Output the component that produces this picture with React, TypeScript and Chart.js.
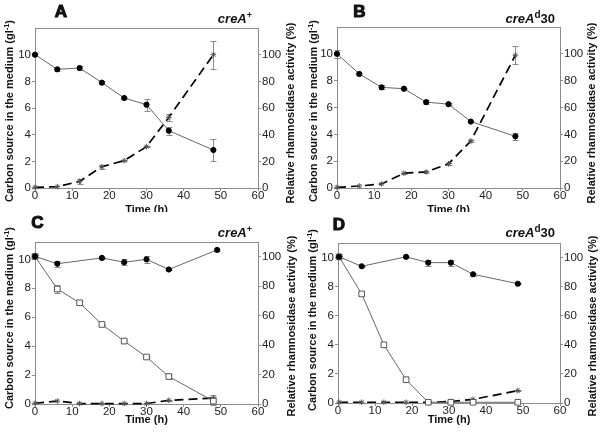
import React, { useEffect, useRef } from "react";
import { Chart, registerables } from "chart.js";

Chart.register(...registerables);

const FONT = "'Liberation Sans', Arial, sans-serif";

// ---- shared axis ticks ----
const timeTicks = [0, 10, 20, 30, 40, 50, 60];
const carbonTicks = [0, 2, 4, 6, 8, 10];
const activityTicks = [0, 20, 40, 60, 80, 100];

// ---- Panel A (creA+) ----
const timesA = [0, 6, 12, 18, 24, 30, 36, 48];
const carbonA = [10.0, 8.9, 9.0, 7.9, 6.75, 6.25, 4.3, 2.85];
const carbonErrA = [0.1, 0.1, 0.15, 0.1, 0.1, 0.45, 0.3, 0.8];
const activityA = [0.5, 1, 5, 16, 20.5, 31, 53, 100];
const activityErrA = [0, 0, 2, 1.5, 0.5, 0.5, 2.5, 10.5];

// ---- Panel B (creAd30) ----
const timesB = [0, 6, 12, 18, 24, 30, 36, 48];
const carbonB = [10.0, 8.5, 7.5, 7.4, 6.4, 6.25, 4.95, 3.85];
const carbonErrB = [0.3, 0.05, 0.15, 0.05, 0.15, 0.1, 0.05, 0.25];
const activityB = [0.5, 1.5, 3, 11, 12, 18, 35, 99];
const activityErrB = [0, 0, 0, 0.5, 0.5, 0.5, 1, 6.5];

// ---- Panel C (creA+) ----
const timesFilledC = [0, 6, 18, 24, 30, 36, 49];
const filledC = [10.2, 9.7, 10.1, 9.8, 10.0, 9.3, 10.65];
const filledErrC = [0.1, 0.2, 0.05, 0.2, 0.25, 0.05, 0.05];
const timesC = [0, 6, 12, 18, 24, 30, 36, 48];
const openC = [10.2, 7.95, 7.0, 5.5, 4.35, 3.25, 1.9, 0.2];
const openErrC = [0.1, 0.3, 0.15, 0.05, 0.1, 0.05, 0.15, 0.3];
const activityC = [0.5, 2, 0.3, 0.3, 0.3, 0.3, 2.5, 4];
const activityErrC = [0, 0, 0, 0, 0, 0, 0.5, 2];

// ---- Panel D (creAd30) ----
const timesFilledD = [0.3, 6.4, 18.4, 24.4, 30.5, 36.5, 48.6];
const filledD = [10.05, 9.4, 10.05, 9.65, 9.65, 8.85, 8.2];
const filledErrD = [0.05, 0.05, 0.05, 0.2, 0.2, 0.1, 0.05];
const timesD = [0.3, 6.4, 12.4, 18.4, 24.4, 30.5, 36.5, 48.6];
const openD = [10.05, 7.5, 4.0, 1.6, 0.05, 0.05, 0.05, 0.05];
const openErrD = [0, 0, 0, 0, 0, 0, 0, 0];
const activityD = [0.5, 0.5, 0.5, 0.5, 0.5, 1, 2.5, 8.5];
const activityErrD = [0, 0, 0, 0, 0, 0, 0.3, 0.3];

type Series = { times: number[]; values: number[]; errors: number[] };

interface PanelSpec {
  left: number; top: number; w: number; h: number;
  padTop: number; leftW: number; rightW: number; bottomH: number;
  leftMax: number; rightMax: number;
  filled: Series; open?: Series; activity: Series;
  letter: string; letterPos: [number, number];
  genotype: "plus" | "d30"; genoRight: number; genoBase: number;
  leftTitle: [number, number]; rightTitle: [number, number]; timeTitle: [number, number];
}

const panels: PanelSpec[] = [
  {
    left: 0, top: 0, w: 300, h: 212, padTop: 28, leftW: 35, rightW: 42, bottomH: 24,
    leftMax: 12, rightMax: 120,
    filled: { times: timesA, values: carbonA, errors: carbonErrA },
    activity: { times: timesA, values: activityA, errors: activityErrA },
    letter: "A", letterPos: [61, 12], genotype: "plus", genoRight: 252, genoBase: 23,
    leftTitle: [10, 111], rightTitle: [291, 113], timeTitle: [146.5, 209.5],
  },
  {
    left: 300, top: 0, w: 300, h: 212, padTop: 27, leftW: 37, rightW: 40, bottomH: 24,
    leftMax: 12, rightMax: 120,
    filled: { times: timesB, values: carbonB, errors: carbonErrB },
    activity: { times: timesB, values: activityB, errors: activityErrB },
    letter: "B", letterPos: [59.5, 12], genotype: "d30", genoRight: 255, genoBase: 23,
    leftTitle: [14, 111], rightTitle: [292, 113], timeTitle: [148.5, 209.5],
  },
  {
    left: 0, top: 212, w: 300, h: 221, padTop: 30, leftW: 35, rightW: 42, bottomH: 29,
    leftMax: 11.2, rightMax: 110,
    filled: { times: timesFilledC, values: filledC, errors: filledErrC },
    open: { times: timesC, values: openC, errors: openErrC },
    activity: { times: timesC, values: activityC, errors: activityErrC },
    letter: "C", letterPos: [37.5, 11.5], genotype: "plus", genoRight: 252, genoBase: 25,
    leftTitle: [10, 106], rightTitle: [292, 114], timeTitle: [146.5, 208],
  },
  {
    left: 300, top: 212, w: 300, h: 221, padTop: 31, leftW: 38, rightW: 40, bottomH: 30,
    leftMax: 11, rightMax: 110,
    filled: { times: timesFilledD, values: filledD, errors: filledErrD },
    open: { times: timesD, values: openD, errors: openErrD },
    activity: { times: timesD, values: activityD, errors: activityErrD },
    letter: "D", letterPos: [39, 13.5], genotype: "d30", genoRight: 255, genoBase: 25,
    leftTitle: [13, 108], rightTitle: [292.5, 114], timeTitle: [149, 208],
  },
];

type Part = { t: string; font: string; dy?: number };

function measureParts(ctx: CanvasRenderingContext2D, parts: Part[]) {
  let w = 0;
  for (const p of parts) { ctx.font = p.font; w += ctx.measureText(p.t).width; }
  return w;
}
function drawParts(ctx: CanvasRenderingContext2D, parts: Part[], x: number, y: number) {
  let cx = x;
  for (const p of parts) {
    ctx.font = p.font;
    ctx.fillText(p.t, cx, y + (p.dy || 0));
    cx += ctx.measureText(p.t).width;
  }
}
function drawRotated(ctx: CanvasRenderingContext2D, parts: Part[], cx: number, cy: number) {
  ctx.save();
  ctx.translate(cx, cy);
  ctx.rotate(-Math.PI / 2);
  ctx.textAlign = "left";
  ctx.textBaseline = "middle";
  const w = measureParts(ctx, parts);
  drawParts(ctx, parts, -w / 2, 0);
  ctx.restore();
}

const errorBarPlugin = {
  id: "errbars",
  beforeDatasetsDraw(chart: any) {
    const ctx = chart.ctx as CanvasRenderingContext2D;
    const xs = chart.scales.x;
    ctx.save();
    ctx.strokeStyle = "#8a8a8a";
    ctx.lineWidth = 1;
    chart.data.datasets.forEach((ds: any) => {
      const errs: number[] | undefined = ds.errorBars;
      if (!errs) return;
      const ys = chart.scales[ds.yAxisID];
      ds.data.forEach((pt: any, i: number) => {
        const e = errs[i];
        if (!e) return;
        const x = Math.round(xs.getPixelForValue(pt.x)) + 0.5;
        const y1 = Math.round(ys.getPixelForValue(pt.y + e)) + 0.5;
        const y2 = Math.round(ys.getPixelForValue(pt.y - e)) + 0.5;
        ctx.beginPath();
        ctx.moveTo(x, y1); ctx.lineTo(x, y2);
        ctx.moveTo(x - 3, y1); ctx.lineTo(x + 3, y1);
        ctx.moveTo(x - 3, y2); ctx.lineTo(x + 3, y2);
        ctx.stroke();
      });
    });
    ctx.restore();
  },
};

function textPlugin(spec: PanelSpec) {
  return {
    id: "texts",
    afterDraw(chart: any) {
      const ctx = chart.ctx as CanvasRenderingContext2D;
      const a = chart.chartArea;
      ctx.save();
      // top frame
      ctx.strokeStyle = "#8c8c8c";
      ctx.lineWidth = 1;
      ctx.beginPath();
      ctx.moveTo(a.left, Math.round(a.top) + 0.5);
      ctx.lineTo(a.right, Math.round(a.top) + 0.5);
      ctx.stroke();

      ctx.fillStyle = "#111";
      // panel letter
      ctx.font = `bold 17px ${FONT}`;
      ctx.textAlign = "center";
      ctx.textBaseline = "middle";
      ctx.strokeStyle = "#111";
      ctx.lineWidth = 1.1;
      ctx.strokeText(spec.letter, spec.letterPos[0], spec.letterPos[1]);
      ctx.fillText(spec.letter, spec.letterPos[0], spec.letterPos[1]);

      // genotype
      const it = `italic bold 13px ${FONT}`;
      const sup = `bold 9px ${FONT}`;
      const bd = `bold 13px ${FONT}`;
      const geno: Part[] =
        spec.genotype === "plus"
          ? [{ t: "creA", font: it }, { t: "+", font: sup, dy: -5 }]
          : [{ t: "creA", font: it }, { t: "d", font: `bold 10px ${FONT}`, dy: -5 }, { t: "30", font: bd }];
      ctx.textAlign = "left";
      ctx.textBaseline = "alphabetic";
      const gw = measureParts(ctx, geno);
      drawParts(ctx, geno, spec.genoRight - gw, spec.genoBase);

      // axis titles
      const tf = `bold 11px ${FONT}`;
      drawRotated(ctx, [
        { t: "Carbon source in the medium (gl", font: tf },
        { t: "-1", font: `bold 7.5px ${FONT}`, dy: -3.5 },
        { t: ")", font: tf },
      ], spec.leftTitle[0], spec.leftTitle[1]);
      drawRotated(ctx, [{ t: "Relative rhamnosidase activity (%)", font: tf }], spec.rightTitle[0], spec.rightTitle[1]);
      ctx.font = tf;
      ctx.textAlign = "center";
      ctx.textBaseline = "middle";
      ctx.fillText("Time (h)", spec.timeTitle[0], spec.timeTitle[1]);
      ctx.restore();
    },
  };
}

function toXY(s: Series) {
  return s.times.map((t, i) => ({ x: t, y: s.values[i] }));
}

function buildConfig(spec: PanelSpec): any {
  const datasets: any[] = [
    {
      label: "filled",
      data: toXY(spec.filled),
      errorBars: spec.filled.errors,
      yAxisID: "y",
      borderColor: "#666",
      borderWidth: 1,
      pointStyle: "circle",
      pointRadius: 2.6,
      pointBackgroundColor: "#000",
      pointBorderColor: "#000",
      pointBorderWidth: 1,
      tension: 0,
      clip: false,
      order: 0,
    },
  ];
  if (spec.open) {
    datasets.push({
      label: "open",
      data: toXY(spec.open),
      errorBars: spec.open.errors,
      yAxisID: "y",
      borderColor: "#666",
      borderWidth: 1,
      pointStyle: "rect",
      pointRadius: 4,
      pointBackgroundColor: "#fff",
      pointBorderColor: "#555",
      pointBorderWidth: 1,
      tension: 0,
      clip: false,
      order: 1,
    });
  }
  datasets.push({
    label: "activity",
    data: toXY(spec.activity),
    errorBars: spec.activity.errors,
    yAxisID: "y1",
    borderColor: "#000",
    borderWidth: 1.7,
    borderDash: [9, 5],
    pointStyle: "star",
    pointRadius: 2.8,
    pointBackgroundColor: "#555",
    pointBorderColor: "#555",
    pointBorderWidth: 1,
    tension: 0,
    clip: false,
    order: 2,
  });

  const tickFont = { family: FONT, size: 11.5, lineHeight: 1 };
  const grid = { display: true, drawOnChartArea: false, drawTicks: true, tickLength: 3, color: "#8c8c8c" };
  const border = { display: true, color: "#8c8c8c", width: 1 };

  return {
    type: "line",
    data: { datasets },
    options: {
      animation: false,
      responsive: false,
      devicePixelRatio: 1,
      events: [],
      layout: { padding: { top: spec.padTop, left: 0, right: 0, bottom: 0 } },
      plugins: { legend: { display: false }, tooltip: { enabled: false }, title: { display: false } },
      scales: {
        x: {
          type: "linear",
          position: "bottom",
          min: 0,
          max: 60,
          grid,
          border,
          ticks: { font: tickFont, color: "#222", padding: -1, maxRotation: 0 },
          afterBuildTicks: (s: any) => { s.ticks = timeTicks.map((v) => ({ value: v })); },
          afterFit: (s: any) => { s.height = spec.bottomH; },
        },
        y: {
          type: "linear",
          position: "left",
          min: 0,
          max: spec.leftMax,
          grid,
          border,
          ticks: { font: tickFont, color: "#222", padding: 1 },
          afterBuildTicks: (s: any) => { s.ticks = carbonTicks.map((v) => ({ value: v })); },
          afterFit: (s: any) => { s.width = spec.leftW; },
        },
        y1: {
          type: "linear",
          position: "right",
          min: 0,
          max: spec.rightMax,
          grid,
          border,
          ticks: { font: tickFont, color: "#222", padding: 1 },
          afterBuildTicks: (s: any) => { s.ticks = activityTicks.map((v) => ({ value: v })); },
          afterFit: (s: any) => { s.width = spec.rightW; },
        },
      },
    },
    plugins: [errorBarPlugin, textPlugin(spec)],
  };
}

function Panel({ spec }: { spec: PanelSpec }) {
  const ref = useRef<HTMLCanvasElement>(null);
  useEffect(() => {
    const chart = new Chart(ref.current as HTMLCanvasElement, buildConfig(spec));
    return () => chart.destroy();
  }, [spec]);
  return (
    <canvas
      ref={ref}
      width={spec.w}
      height={spec.h}
      style={{ position: "absolute", left: spec.left, top: spec.top, width: spec.w, height: spec.h }}
    />
  );
}

export default function App() {
  return (
    <div style={{ position: "fixed", left: 0, top: 0, width: 600, height: 433, background: "#fff", overflow: "hidden" }}>
      {panels.map((p) => (
        <Panel key={p.letter} spec={p} />
      ))}
    </div>
  );
}
